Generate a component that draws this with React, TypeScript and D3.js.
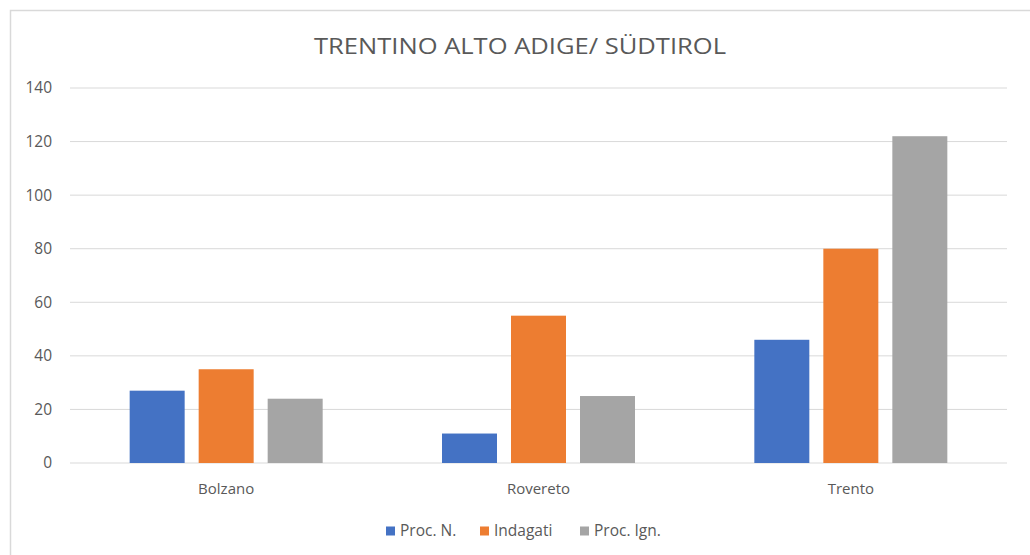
import React from "react";
import { scaleBand, scaleLinear } from "d3";

// data
const categories = ["Bolzano", "Rovereto", "Trento"];
const seriesNames = ["Proc. N.", "Indagati", "Proc. Ign."];
const procN = [27, 11, 46];
const indagati = [35, 55, 80];
const procIgn = [24, 25, 122];
const yTicks = [0, 20, 40, 60, 80, 100, 120, 140];

const colors = ["#4472C4", "#ED7D31", "#A5A5A5"];
const FONT = "'Open Sans', 'Noto Sans', sans-serif";

const W = 1030;
const H = 555;
const plot = { left: 70, right: 1007, top: 88, bottom: 463 };

export default function App() {
  const values = [procN, indagati, procIgn];
  //
  const x0 = scaleBand().domain(categories).range([plot.left, plot.right]);
  const band = x0.bandwidth();
  // group of bars inside each category (gap between groups ~ 2.2 x bar width)
  const groupW = 193;
  const x1 = scaleBand()
    .domain(seriesNames)
    .range([(band - groupW) / 2, (band + groupW) / 2])
    .paddingInner(0.203)
    .paddingOuter(0);
  const y = scaleLinear().domain([0, 140]).range([plot.bottom, plot.top]);

  // legend layout
  const legendX = [386, 480, 580];

  return (
    <svg
      width={W}
      height={H}
      style={{ position: "absolute", left: 0, top: 0, background: "#fff" }}
      fontFamily={FONT}
    >
      {/* chart frame */}
      <path d={`M${W},10.5 H10.5 V${H}`} fill="none" stroke="#D9D9D9" strokeWidth={1.5} />

      <text
        x={520}
        y={54}
        textAnchor="middle"
        fontSize={21}
        fill="#595959"
        textLength={412}
        lengthAdjust="spacingAndGlyphs"
      >
        TRENTINO ALTO ADIGE/ SÜDTIROL
      </text>

      {/* grid + y labels */}
      {yTicks.map((t) => (
        <g key={t}>
          <line
            x1={plot.left}
            x2={plot.right}
            y1={y(t)}
            y2={y(t)}
            stroke="#D9D9D9"
            strokeWidth={1}
          />
          <text
            x={52}
            y={y(t)}
            dy="0.35em"
            textAnchor="end"
            fontSize={15.5}
            fill="#595959"
          >
            {t}
          </text>
        </g>
      ))}

      {/* bars */}
      {categories.map((c, i) => (
        <g key={c} transform={`translate(${x0(c)},0)`}>
          {seriesNames.map((s, j) => (
            <rect
              key={s}
              x={x1(s)}
              y={y(values[j][i])}
              width={x1.bandwidth()}
              height={plot.bottom - y(values[j][i])}
              fill={colors[j]}
            />
          ))}
          <text
            x={band / 2}
            y={489}
            dy="0.35em"
            textAnchor="middle"
            fontSize={15}
            fill="#595959"
          >
            {c}
          </text>
        </g>
      ))}

      {/* legend */}
      {seriesNames.map((s, j) => (
        <g key={s} transform={`translate(${legendX[j]},531)`}>
          <rect x={0} y={-4.5} width={9} height={9} fill={colors[j]} />
          <text x={14} y={0} dy="0.35em" fontSize={15.5} fill="#595959">
            {s}
          </text>
        </g>
      ))}
    </svg>
  );
}
